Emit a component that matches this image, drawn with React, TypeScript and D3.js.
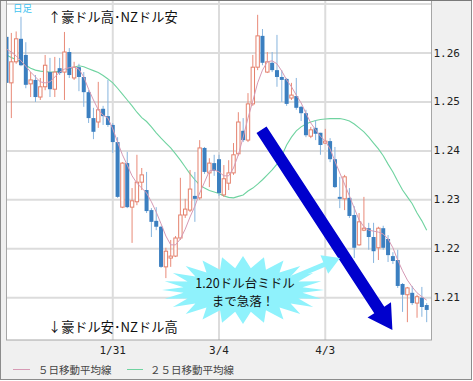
import React from "react";
import * as d3 from "d3";

const openP = [1.2633,1.2539,1.2582,1.2629,1.2596,1.2537,1.2545,1.2510,1.2531,1.2561,
1.2526,1.2569,1.2561,1.2602,1.2549,1.2571,1.2551,1.2520,1.2467,1.2459,
1.2486,1.2471,1.2453,1.2418,1.2285,1.2375,1.2285,1.2296,1.2336,1.2320,
1.2279,1.2257,1.2245,1.2163,1.2181,1.2185,1.2222,1.2269,1.2279,1.2308,
1.2304,1.2406,1.2355,1.2375,1.2383,1.2310,1.2334,1.2355,1.2394,1.2441,
1.2422,1.2496,1.2571,1.2635,1.2561,1.2580,1.2565,1.2551,1.2547,1.2508,
1.2512,1.2490,1.2477,1.2430,1.2447,1.2437,1.2416,1.2420,1.2383,1.2306,
1.2302,1.2304,1.2269,1.2208,1.2238,1.2242,1.2224,1.2202,1.2242,1.2220,
1.2185,1.2177,1.2128,1.2106,1.2110,1.2089,1.2100,1.2085];

const closeP = [1.2539,1.2582,1.2629,1.2575,1.2535,1.2545,1.2510,1.2531,1.2575,1.2526,
1.2561,1.2559,1.2602,1.2555,1.2571,1.2551,1.2520,1.2467,1.2439,1.2484,
1.2471,1.2453,1.2418,1.2306,1.2375,1.2285,1.2298,1.2336,1.2351,1.2277,
1.2255,1.2245,1.2163,1.2195,1.2185,1.2222,1.2269,1.2281,1.2322,1.2302,
1.2406,1.2357,1.2375,1.2359,1.2314,1.2343,1.2355,1.2392,1.2459,1.2422,
1.2496,1.2571,1.2635,1.2580,1.2582,1.2565,1.2551,1.2545,1.2496,1.2514,
1.2488,1.2477,1.2432,1.2443,1.2435,1.2412,1.2420,1.2383,1.2326,1.2302,
1.2347,1.2267,1.2202,1.2255,1.2242,1.2224,1.2195,1.2242,1.2202,1.2187,
1.2175,1.2124,1.2106,1.2120,1.2089,1.2102,1.2081,1.2075];

const highP = [1.2637,1.2641,1.2644,1.2674,1.2622,1.2561,1.2555,1.2549,1.2596,1.2590,
1.2592,1.2590,1.2643,1.2610,1.2582,1.2578,1.2561,1.2524,1.2488,1.2541,
1.2492,1.2545,1.2457,1.2428,1.2377,1.2398,1.2324,1.2392,1.2365,1.2357,
1.2283,1.2285,1.2247,1.2202,1.2218,1.2226,1.2345,1.2302,1.2361,1.2357,
1.2422,1.2408,1.2385,1.2392,1.2392,1.2371,1.2381,1.2416,1.2479,1.2467,
1.2518,1.2596,1.2678,1.2649,1.2602,1.2602,1.2637,1.2565,1.2549,1.2539,
1.2549,1.2492,1.2484,1.2449,1.2463,1.2437,1.2445,1.2426,1.2408,1.2347,
1.2351,1.2324,1.2287,1.2273,1.2306,1.2253,1.2253,1.2245,1.2247,1.2228,
1.2193,1.2198,1.2130,1.2122,1.2124,1.2106,1.2122,1.2089];

const lowP = [1.2537,1.2467,1.2578,1.2573,1.2528,1.2510,1.2500,1.2504,1.2524,1.2510,
1.2510,1.2555,1.2504,1.2549,1.2545,1.2522,1.2490,1.2457,1.2424,1.2447,
1.2453,1.2449,1.2396,1.2304,1.2283,1.2283,1.2212,1.2289,1.2320,1.2273,
1.2224,1.2238,1.2161,1.2140,1.2163,1.2183,1.2218,1.2263,1.2275,1.2255,
1.2300,1.2353,1.2326,1.2349,1.2308,1.2306,1.2320,1.2351,1.2390,1.2418,
1.2418,1.2492,1.2565,1.2575,1.2559,1.2561,1.2531,1.2500,1.2492,1.2504,
1.2484,1.2461,1.2428,1.2426,1.2422,1.2392,1.2414,1.2377,1.2324,1.2283,
1.2279,1.2263,1.2181,1.2206,1.2236,1.2198,1.2171,1.2177,1.2198,1.2173,
1.2169,1.2120,1.2071,1.2050,1.2085,1.2059,1.2061,1.2050];

const ma5 = [1.2608,1.2602,1.2594,1.2584,1.2573,1.2561,1.2551,1.2541,1.2539,1.2541,
1.2551,1.2561,1.2567,1.2570,1.2571,1.2567,1.2551,1.2526,1.2504,1.2484,
1.2473,1.2467,1.2445,1.2418,1.2392,1.2371,1.2349,1.2334,1.2324,1.2314,
1.2296,1.2275,1.2251,1.2226,1.2208,1.2208,1.2220,1.2240,1.2265,1.2287,
1.2314,1.2336,1.2359,1.2361,1.2357,1.2349,1.2349,1.2365,1.2392,1.2428,
1.2467,1.2502,1.2539,1.2565,1.2582,1.2584,1.2578,1.2563,1.2545,1.2531,
1.2514,1.2498,1.2477,1.2457,1.2443,1.2430,1.2420,1.2404,1.2379,1.2355,
1.2332,1.2308,1.2283,1.2259,1.2245,1.2238,1.2236,1.2234,1.2230,1.2220,
1.2202,1.2177,1.2155,1.2136,1.2122,1.2110,1.2102,1.2095];

const ma25 = [1.2596,1.2591,1.2586,1.2582,1.2575,1.2569,1.2565,1.2563,1.2562,1.2561,
1.2561,1.2563,1.2566,1.2568,1.2571,1.2574,1.2572,1.2568,1.2564,1.2560,
1.2554,1.2547,1.2539,1.2528,1.2516,1.2504,1.2492,1.2479,1.2468,1.2460,
1.2449,1.2437,1.2426,1.2416,1.2406,1.2394,1.2381,1.2367,1.2353,1.2341,
1.2330,1.2324,1.2319,1.2316,1.2313,1.2308,1.2305,1.2304,1.2307,1.2310,
1.2318,1.2324,1.2332,1.2341,1.2351,1.2361,1.2373,1.2390,1.2412,1.2428,
1.2441,1.2449,1.2455,1.2459,1.2462,1.2464,1.2465,1.2466,1.2466,1.2466,
1.2464,1.2461,1.2455,1.2447,1.2439,1.2428,1.2416,1.2404,1.2390,1.2373,
1.2357,1.2338,1.2320,1.2306,1.2292,1.2273,1.2257,1.2238];

const yTicks = [1.21, 1.22, 1.23, 1.24, 1.25, 1.26];
const yGrid = [1.21, 1.22, 1.23, 1.24, 1.25, 1.26, 1.27];
const xTickIndex = [22, 44, 66];
const xTickLabels = ["1/31", "3/4", "4/3"];

const W = 473, H = 381;
const PL = 6, PR = 431, PT = 1, PB = 340;

const x = d3.scaleLinear().domain([0, 87]).range([6.5, 426.7]);
const y = d3.scaleLinear().domain([1.21, 1.26]).range([297.7, 53]);

function arrowPoly(x1: number, y1: number, x2: number, y2: number, sw: number, hw: number, hl: number) {
  const dx = x2 - x1, dy = y2 - y1;
  const len = Math.hypot(dx, dy);
  const ux = dx / len, uy = dy / len;
  const px = -uy, py = ux;
  const bx = x2 - ux * hl, by = y2 - uy * hl;
  const pts = [
    [x1 + px * sw / 2, y1 + py * sw / 2],
    [bx + px * sw / 2, by + py * sw / 2],
    [bx + px * hw / 2, by + py * hw / 2],
    [x2, y2],
    [bx - px * hw / 2, by - py * hw / 2],
    [bx - px * sw / 2, by - py * sw / 2],
    [x1 - px * sw / 2, y1 - py * sw / 2],
  ];
  return pts.map((p) => p.join(",")).join(" ");
}

function burst(cx: number, cy: number, rx: number, ry: number, irx: number, iry: number, n: number) {
  const pts: string[] = [];
  for (let k = 0; k < n * 2; k++) {
    const a = (Math.PI * k) / n - Math.PI / 2;
    const outer = k % 2 === 0;
    const r1 = outer ? rx : irx, r2 = outer ? ry : iry;
    pts.push(`${cx + r1 * Math.cos(a)},${cy + r2 * Math.sin(a)}`);
  }
  return pts.join(" ");
}

export default function App() {
  const idx = d3.range(openP.length);
  const line = d3.line<number>().x((_, i) => x(i)).y((v) => y(v));
  const bw = 3.4;
  const jp = "'Noto Sans CJK JP', sans-serif";
  const mono = "'DejaVu Sans Mono', monospace";

  const a1 = { x1: x(52.8), y1: y(1.2443), x2: x(79.9), y2: y(1.2034) };

  return (
    <svg width={W} height={H} style={{ position: "absolute", left: 0, top: 0 }}>
      <defs>
        <clipPath id="plotclip">
          <rect x={PL} y={PT} width={PR - PL} height={PB - PT} />
        </clipPath>
      </defs>
      <rect x={0.5} y={0.5} width={W - 2} height={H - 2} fill="#f0f0f0" stroke="#8c8c8c" />
      <rect x={PL + 0.5} y={PT} width={PR - PL} height={PB - PT} fill="#fff" />
      <g clipPath="url(#plotclip)">
        {yGrid.map((t) => (
          <line key={"gy" + t} x1={PL} x2={PR} y1={y(t)} y2={y(t)} stroke="#dcdcdc" strokeWidth={2} />
        ))}
        {xTickIndex.map((i) => (
          <line key={"gx" + i} x1={x(i)} x2={x(i)} y1={PT} y2={PB} stroke="#dcdcdc" strokeWidth={2} />
        ))}
        <path d={line(ma25) || ""} fill="none" stroke="#6fd3a0" strokeWidth={1.1} />
        {idx.map((i) => {
          const up = closeP[i] >= openP[i];
          const cx = x(i);
          const top = y(Math.max(openP[i], closeP[i]));
          const bot = y(Math.min(openP[i], closeP[i]));
          return (
            <g key={i}>
              <line x1={cx} x2={cx} y1={y(highP[i])} y2={y(lowP[i])} stroke={up ? "#e98a78" : "#86b4de"} strokeWidth={1} />
              {up ? (
                <rect x={cx - bw / 2} y={top} width={bw} height={Math.max(bot - top, 1)} fill="#fff" stroke="#e4806c" strokeWidth={1} />
              ) : (
                <rect x={cx - bw / 2 - 0.3} y={top} width={bw + 0.6} height={Math.max(bot - top, 1.5)} fill="#3b7fc0" />
              )}
            </g>
          );
        })}
        <path d={line(ma5) || ""} fill="none" stroke="#d69ab4" strokeWidth={1} />
        <polygon points={arrowPoly(a1.x1, a1.y1, a1.x2, a1.y2, 12, 28, 24)} fill="#0000cd" />
        <polygon points={burst(243, 290, 81, 34, 60, 22, 24)} fill="#8ff2fc" />
        <polygon points={arrowPoly(292, 278, 340, 258, 5, 20, 17)} fill="#8ff2fc" />
        <text x={245} y={282} textAnchor="middle" dominantBaseline="central" fontFamily={jp} fontSize={12.5} fill="#111">1.20ドル台ミドル</text>
        <text x={243} y={300} textAnchor="middle" dominantBaseline="central" fontFamily={jp} fontSize={12.5} fill="#111">まで急落！</text>
        <text x={13} y={8} dominantBaseline="central" fontFamily={jp} fontSize={9.5} fill="#3fc3f0">日足</text>
        <text x={48} y={16} dominantBaseline="central" fontFamily={jp} fontSize={13.2} fill="#111">↑豪ドル高･NZドル安</text>
        <text x={48} y={326} dominantBaseline="central" fontFamily={jp} fontSize={13.2} fill="#111">↓豪ドル安･NZドル高</text>
      </g>
      <rect x={PL + 0.5} y={PT - 0.5} width={PR - PL} height={PB - PT + 0.5} fill="none" stroke="#a6a6a6" />
      <line x1={0} x2={W - 1} y1={0.5} y2={0.5} stroke="#7a7a7a" />
      {yTicks.map((t) => (
        <text key={"yt" + t} x={433.5} y={y(t)} dominantBaseline="central" fontFamily={mono} fontSize={11} fill="#222">{t.toFixed(2)}</text>
      ))}
      {xTickIndex.map((i, k) => (
        <text key={"xt" + i} x={x(i)} y={354} textAnchor="middle" fontFamily={mono} fontSize={11} fill="#222">{xTickLabels[k]}</text>
      ))}
      <line x1={13} x2={30} y1={369.5} y2={369.5} stroke="#d69ab4" strokeWidth={1} />
      <text x={38} y={369} dominantBaseline="central" fontFamily={jp} fontSize={10.5} fill="#444">５日移動平均線</text>
      <line x1={127} x2={143} y1={369.5} y2={369.5} stroke="#6fd3a0" strokeWidth={1} />
      <text x={150} y={369} dominantBaseline="central" fontFamily={jp} fontSize={10.5} fill="#444">２５日移動平均線</text>
    </svg>
  );
}
